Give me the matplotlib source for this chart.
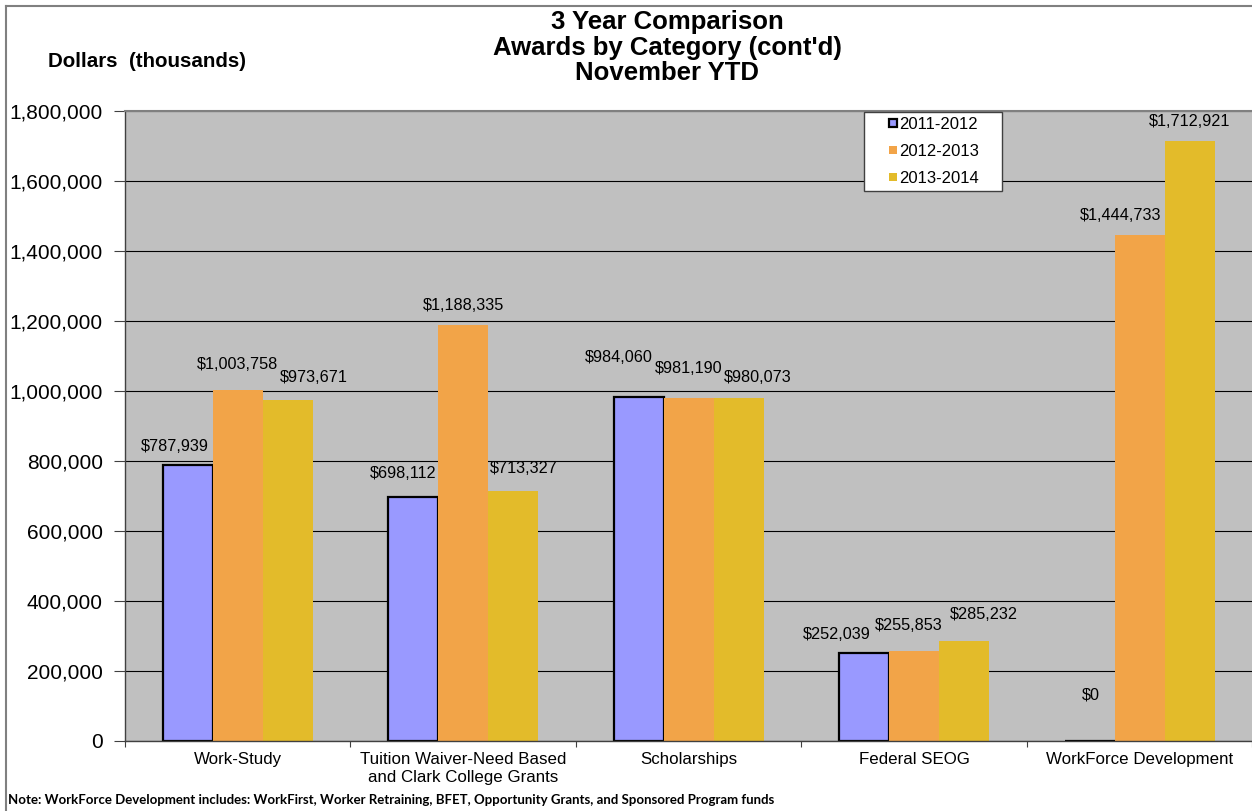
import matplotlib
matplotlib.use("Agg")
import matplotlib.pyplot as plt
import numpy as np
from matplotlib.patches import Rectangle
from matplotlib.legend_handler import HandlerPatch
from matplotlib.lines import Line2D
from matplotlib.ticker import FuncFormatter, FixedLocator

plt.rcParams['font.family'] = ['Liberation Sans', 'DejaVu Sans']

# ---------------- data ----------------
categories = ["Work-Study",
              "Tuition Waiver-Need Based\nand Clark College Grants",
              "Scholarships",
              "Federal SEOG",
              "WorkForce Development"]
series_labels = ["2011-2012", "2012-2013", "2013-2014"]
v_2011_2012 = [787939, 698112, 984060, 252039, 0]
v_2012_2013 = [1003758, 1188335, 981190, 255853, 1444733]
v_2013_2014 = [973671, 713327, 980073, 285232, 1712921]
y_ticks = [0, 200000, 400000, 600000, 800000, 1000000, 1200000, 1400000, 1600000, 1800000]

# label nudges (pixels) reproducing the reference's data-label placement
label_dx = [[-13, -10, -20, -27, 1],
            [0, 0, 0, -5, -19],
            [26, 11, 19, 20, 0]]
label_dy = [[19, 23, 39, 18, 46],
            [25, 20, 29, 26, 20],
            [23, 23, 20, 27, 20]]

colors = ["#9999FF", "#F2A448", "#E3BB2A"]
edgecolors = ["black", "none", "none"]
linewidths = [1.6, 0, 0]

W, H = 1252, 811
fig = plt.figure(figsize=(W / 100, H / 100), dpi=100)
fig.patch.set_facecolor("white")

left_px, right_px, top_px, bot_px = 125, 1252.25, 111, 741
ax = fig.add_axes([left_px / W, 1 - bot_px / H, (right_px - left_px) / W, (bot_px - top_px) / H])
ax.set_facecolor("#C0C0C0")

x = np.arange(len(categories))
bw = 50 / 225.45
series = [v_2011_2012, v_2012_2013, v_2013_2014]
containers = []
for i, vals in enumerate(series):
    xs = x + (i - 1) * bw
    bc = ax.bar(xs, vals, bw, color=colors[i], edgecolor=edgecolors[i],
                linewidth=linewidths[i], zorder=2, label=series_labels[i])
    containers.append(bc)
    for j, v in enumerate(vals):
        ax.annotate(f"${v:,.0f}", xy=(xs[j], v), xytext=(label_dx[i][j], label_dy[i][j]),
                    textcoords="offset pixels", ha="center", va="center",
                    fontsize=11.7, color="black", zorder=5)

ax.set_xlim(-0.5, len(categories) - 0.5)
ax.set_ylim(0, 1800000)
ax.yaxis.set_major_locator(FixedLocator(y_ticks))
ax.yaxis.set_major_formatter(FuncFormatter(lambda v, p: f"{v:,.0f}"))
ax.tick_params(axis="y", labelsize=15, length=8, width=0.8, pad=8, color="#404040", direction="out")
ax.yaxis.grid(True, color="black", linewidth=0.8)
ax.set_axisbelow(True)

ax.xaxis.set_major_locator(FixedLocator(np.arange(-0.5, len(categories), 1.0)))
ax.xaxis.set_major_formatter(FuncFormatter(lambda v, p: ""))
ax.xaxis.set_minor_locator(FixedLocator(x))
ax.set_xticklabels(categories, minor=True)
ax.tick_params(axis="x", which="major", length=4, width=0.8, color="#404040", direction="out")
ax.tick_params(axis="x", which="minor", length=0, labelsize=12.2, pad=8)

for s in ["left", "bottom"]:
    ax.spines[s].set_color("#404040")
    ax.spines[s].set_linewidth(1.0)
ax.spines["top"].set_color("#808080")
ax.spines["top"].set_linewidth(1.5)
ax.spines["right"].set_visible(False)


def square_patch(legend, orig_handle, xdescent, ydescent, width, height, fontsize):
    s = 0.48 * fontsize
    return Rectangle((width - s - xdescent, (height - s) / 2 - ydescent), s, s)


leg = ax.legend(handles=[c.patches[0] for c in containers], labels=series_labels,
                loc="upper left",
                bbox_to_anchor=(864 / W, 1 - 191 / H, (1002 - 864) / W, (191 - 112) / H),
                bbox_transform=fig.transFigure, mode="expand", fontsize=12, frameon=True,
                fancybox=False, shadow=False, borderpad=0.3, labelspacing=0.72,
                handlelength=1.68, handleheight=0.7, handletextpad=0.1,
                borderaxespad=0,
                handler_map={Rectangle: HandlerPatch(patch_func=square_patch)})
leg.get_frame().set_edgecolor("#404040")
leg.get_frame().set_linewidth(1.0)
leg.get_frame().set_facecolor("white")
leg.get_frame().set_alpha(1)
leg.set_zorder(10)

# titles
title_lines = ["3 Year Comparison", "Awards by Category (cont'd)", "November YTD"]
title_baselines = [28.5, 54.5, 80]
for t, b in zip(title_lines, title_baselines):
    fig.text(667 / W, 1 - b / H, t, ha="center", va="baseline", fontsize=18.5, fontweight="bold")

fig.text(146.5 / W, 1 - 67 / H, "Dollars  (thousands)", ha="center", va="baseline",
         fontsize=14.8, fontweight="bold")

fig.text(8 / W, 1 - 800 / H,
         "Note: WorkForce Development includes: WorkFirst, Worker Retraining, BFET, Opportunity Grants, and Sponsored Program funds",
         ha="left", va="center", fontsize=9.55, fontweight="bold", family=["Lato", "DejaVu Sans"])

# outer chart border (left & top visible)
fig.add_artist(Line2D([6 / W, 6 / W], [0, 1 - 6 / H], transform=fig.transFigure, color="#808080", lw=1.5))
fig.add_artist(Line2D([6 / W, 1], [1 - 6 / H, 1 - 6 / H], transform=fig.transFigure, color="#808080", lw=1.5))

fig.savefig("out.png", dpi=100, facecolor="white")
